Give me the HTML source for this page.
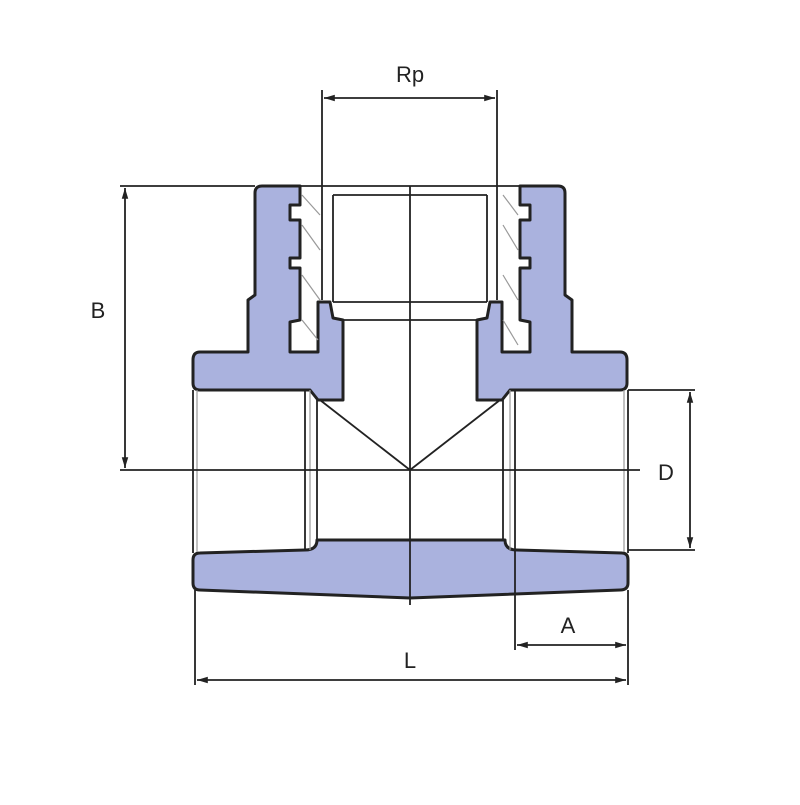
<!DOCTYPE html>
<html><head><style>html,body{margin:0;padding:0;background:#fff}</style></head><body>
<svg width="800" height="800" viewBox="0 0 800 800" xmlns="http://www.w3.org/2000/svg">
<defs>
<marker id="ar" viewBox="0 0 10 10" refX="10" refY="5" markerWidth="8" markerHeight="6" orient="auto-start-reverse"><path d="M0,2 L10,5 L0,8z" fill="#222"/></marker>
</defs>
<g fill="#aab2de" stroke="#222" stroke-width="3" stroke-linejoin="round">
<path d="M262,186 L300,186 L300,205 L290,205 L290,220 L300,220 L300,258 L290,258 L290,268 L300,268 L300,320 L290,322 L290,352 L318,352 L318,302 L330,302 L333,318 L343,320 L343,400 L318,400 L310,390 L200,390 Q193,390 193,383 L193,360 Q193,352 200,352 L248,352 L248,300 L255,295 L255,193 Q255,186 262,186Z"/>
<path d="M558,186 L520,186 L520,205 L530,205 L530,220 L520,220 L520,258 L530,258 L530,268 L520,268 L520,320 L530,322 L530,352 L502,352 L502,302 L490,302 L487,318 L477,320 L477,400 L502,400 L510,390 L620,390 Q627,390 627,383 L627,360 Q627,352 620,352 L572,352 L572,300 L565,295 L565,193 Q565,186 558,186Z"/>
<path d="M200,553 L305,550 Q317,550 317,540 L505,540 Q505,550 517,550 L622,553 Q628,553 628,560 L628,583 Q628,590 620,590 L410,598 L200,590 Q193,590 193,583 L193,560 Q193,553 200,553Z"/>
</g>
<g stroke="#999" stroke-width="1.2" fill="none">
<line x1="302" y1="195" x2="320" y2="215"/><line x1="302" y1="225" x2="320" y2="250"/><line x1="302" y1="275" x2="320" y2="300"/><line x1="302" y1="320" x2="318" y2="340"/>
<line x1="503" y1="195" x2="518" y2="215"/><line x1="503" y1="225" x2="518" y2="250"/><line x1="503" y1="275" x2="518" y2="300"/><line x1="503" y1="320" x2="518" y2="345"/>
<line x1="197" y1="390" x2="197" y2="552"/><line x1="624" y1="390" x2="624" y2="552"/>
<line x1="310" y1="390" x2="310" y2="550"/><line x1="510" y1="390" x2="510" y2="550"/>
</g>
<g stroke="#222" stroke-width="1.8" fill="none">
<line x1="193" y1="390" x2="193" y2="553"/><line x1="628" y1="390" x2="628" y2="553"/>
<line x1="305" y1="390" x2="305" y2="550"/><line x1="317" y1="400" x2="317" y2="540"/>
<line x1="515" y1="390" x2="515" y2="650"/><line x1="503" y1="400" x2="503" y2="540"/>
<line x1="333" y1="195" x2="333" y2="302"/><line x1="487" y1="195" x2="487" y2="302"/>
<line x1="300" y1="186" x2="520" y2="186"/>
<line x1="333" y1="195" x2="487" y2="195"/>
<line x1="333" y1="302" x2="487" y2="302"/><line x1="343" y1="320" x2="477" y2="320"/>
<line x1="320" y1="400" x2="410" y2="470"/><line x1="500" y1="400" x2="410" y2="470"/>
<line x1="410" y1="186" x2="410" y2="605"/>
<line x1="120" y1="470" x2="640" y2="470"/>
<line x1="120" y1="186" x2="255" y2="186"/>
<line x1="125" y1="188" x2="125" y2="468" marker-start="url(#ar)" marker-end="url(#ar)"/>
<line x1="322" y1="90" x2="322" y2="300"/><line x1="497" y1="90" x2="497" y2="300"/>
<line x1="324" y1="98" x2="495" y2="98" marker-start="url(#ar)" marker-end="url(#ar)"/>
<line x1="628" y1="390" x2="695" y2="390"/><line x1="628" y1="550" x2="695" y2="550"/>
<line x1="690" y1="392" x2="690" y2="548" marker-start="url(#ar)" marker-end="url(#ar)"/>
<line x1="628" y1="590" x2="628" y2="685"/><line x1="195" y1="590" x2="195" y2="685"/>
<line x1="517" y1="645" x2="626" y2="645" marker-start="url(#ar)" marker-end="url(#ar)"/>
<line x1="197" y1="680" x2="626" y2="680" marker-start="url(#ar)" marker-end="url(#ar)"/>
</g>
<g font-family="Liberation Sans, sans-serif" font-size="22" fill="#222" text-anchor="middle">
<text x="410" y="82">Rp</text>
<text x="98" y="318">B</text>
<text x="666" y="480">D</text>
<text x="568" y="633">A</text>
<text x="410" y="668">L</text>
</g>
</svg>
</body></html>
